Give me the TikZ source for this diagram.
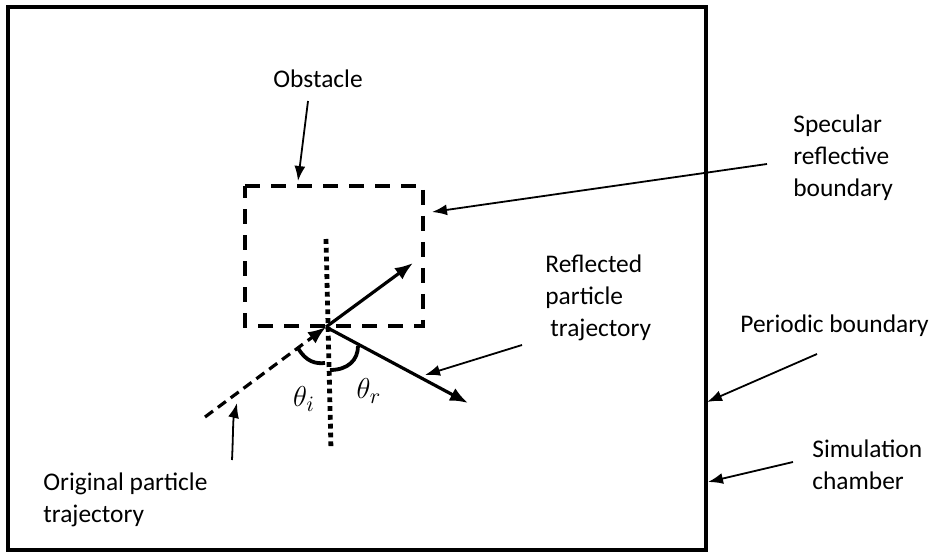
\documentclass[tikz,border=0pt]{standalone}
\usepackage{fontspec}
\setmainfont{Carlito}
\usetikzlibrary{arrows.meta,positioning,calc}

\begin{document}
\begin{tikzpicture}[x=0.5pt, y=-0.5pt,
    lbl/.style={font=\fontsize{12.7}{16}\selectfont, inner sep=0pt, align=left, anchor=north west},
    angle/.style={font=\fontsize{15}{16}\selectfont, inner sep=0pt},
    pointer/.style={-{Latex[length=7.5pt,width=5.5pt]}, line width=0.9pt},
    ray/.style={-{Latex[length=9pt,width=7pt]}, line width=1.6pt},
    wall/.style={dash pattern=on 7.5pt off 5.5pt, line width=1.8pt}]
    \useasboundingbox (0,0) rectangle (936,555);

    % --- Simulation chamber ---
    \draw[line width=1.6pt] (8,7) rectangle (706,550);

    % --- Obstacle ---
    \draw[wall] (245,186) -- (423,186) -- (423,326) -- (245,326) -- cycle;
    \coordinate (hit) at (326,327);
    \coordinate (src) at (205,417);
    \coordinate (in) at (413,263);
    \coordinate (out) at (468,403);

    % normal
    \draw[line width=2.4pt, dash pattern=on 2.4pt off 2pt] (326,239) -- (331,450);

    % trajectories
    \draw[ray, dash pattern=on 5pt off 3pt] (src) -- (hit);
    \draw[ray] (hit) -- (in);
    \draw[ray] (hit) -- (out);

    % angles
    \draw[line width=1.9pt] (298,348) .. controls (306,362) and (316,364) .. (325,363);
    \draw[line width=1.9pt] (330,370) .. controls (348,370) and (358,360) .. (358,346);
    \node[angle] (thi) at (304,399) {$\theta_i$};
    \node[angle] (thr) at (369,391) {$\theta_r$};

    % --- Labels ---
    \node[lbl] (obst) at (273,69) {Obstacle};
    \node[lbl] (spec) at (793,114) {Specular\\reflective\\boundary};
    \node[lbl] (refl) at (545,254) {Reflected\\particle\\\hspace{2.5pt}trajectory};
    \node[lbl] (peri) at (740,314) {Periodic boundary};
    \node[lbl] (simu) at (812,439) {Simulation\\chamber};
    \node[lbl] (orig) at (43,472) {Original particle\\trajectory};

    % label arrows
    \coordinate (obstA) at (308,101);
    \coordinate (obstB) at (298,181);
    \draw[pointer] (obstA) -- (obstB);
    \coordinate (specA) at (767,164);
    \coordinate (specB) at (432,212);
    \draw[pointer] (specA) -- (specB);
    \coordinate (reflA) at (522,345);
    \coordinate (reflB) at (425,375);
    \draw[pointer] (reflA) -- (reflB);
    \coordinate (periA) at (817,354);
    \coordinate (periB) at (707,402);
    \draw[pointer] (periA) -- (periB);
    \coordinate (simuA) at (793,462);
    \coordinate (simuB) at (708,482);
    \draw[pointer] (simuA) -- (simuB);
    \coordinate (origA) at (232,460);
    \coordinate (origB) at (237,403);
    \draw[pointer] (origA) .. controls (233,440) and (233,420) .. (origB);
\end{tikzpicture}
\end{document}
